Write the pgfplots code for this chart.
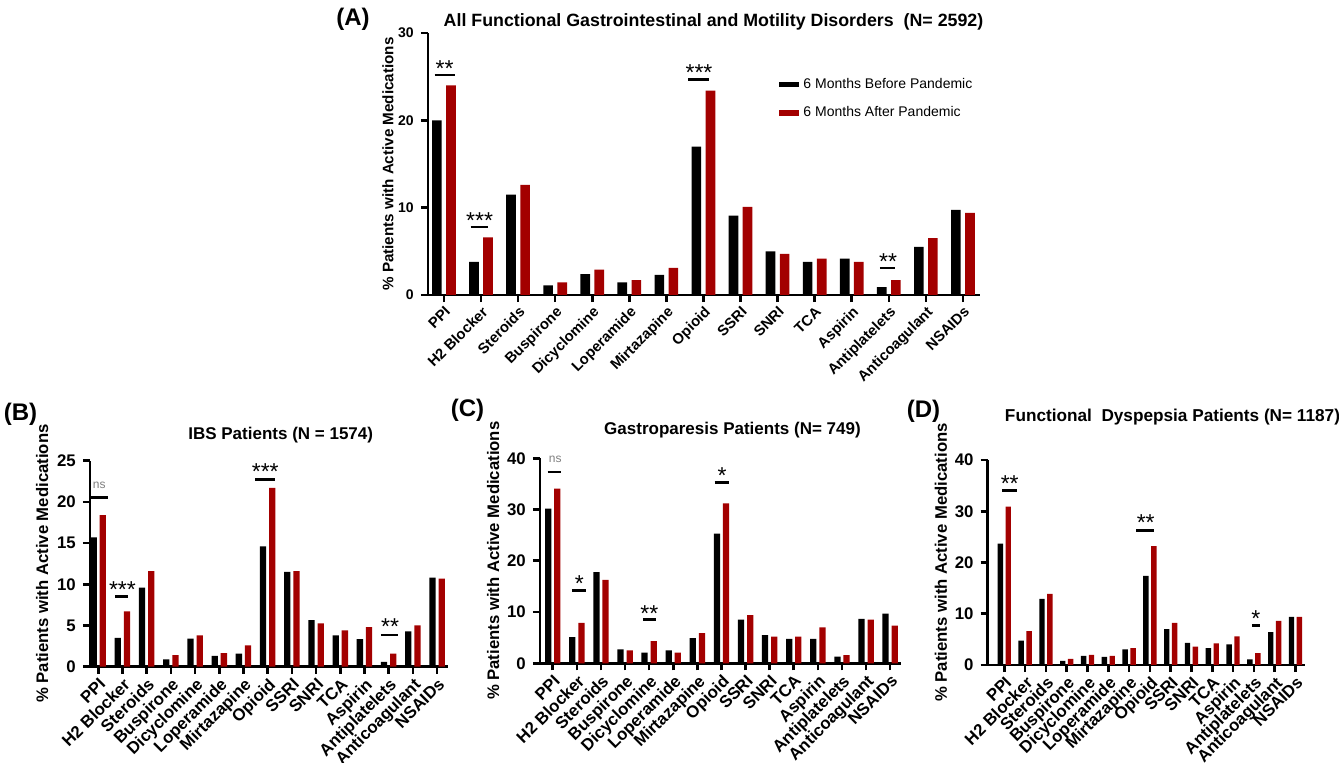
\documentclass[border=0pt]{standalone}
\usepackage{fontspec}
\setmainfont{Liberation Sans}
\usepackage{pgfplots}
\pgfplotsset{compat=1.18}
\usepackage{pgfplotstable}
\definecolor{dred}{RGB}{163,0,0}
\newcommand{\fs}[1]{\fontsize{#1}{#1}\selectfont}

\pgfplotstableread{
i b r
0 20.0 24.0
1 3.8 6.6
2 11.5 12.6
3 1.1 1.45
4 2.4 2.9
5 1.45 1.7
6 2.3 3.1
7 17.0 23.4
8 9.1 10.1
9 5.0 4.7
10 3.8 4.15
11 4.15 3.8
12 0.9 1.7
13 5.5 6.5
14 9.75 9.4
}\dataA
\pgfplotstableread{
i b r
0 15.7 18.4
1 3.5 6.7
2 9.6 11.6
3 0.9 1.4
4 3.4 3.8
5 1.3 1.65
6 1.6 2.6
7 14.6 21.7
8 11.5 11.6
9 5.66 5.26
10 3.8 4.4
11 3.36 4.8
12 0.57 1.6
13 4.3 5.0
14 10.8 10.7
}\dataB
\pgfplotstableread{
i b r
0 30.2 34.1
1 5.1 7.9
2 17.8 16.3
3 2.7 2.5
4 2.1 4.3
5 2.5 2.1
6 4.9 5.9
7 25.3 31.2
8 8.5 9.4
9 5.5 5.2
10 4.75 5.2
11 4.75 7.0
12 1.3 1.6
13 8.65 8.5
14 9.7 7.35
}\dataC
\pgfplotstableread{
i b r
0 23.7 30.9
1 4.75 6.6
2 12.9 13.9
3 0.8 1.2
4 1.8 1.95
5 1.6 1.8
6 3.05 3.3
7 17.4 23.2
8 7.0 8.2
9 4.3 3.6
10 3.3 4.2
11 4.0 5.6
12 1.1 2.3
13 6.4 8.6
14 9.4 9.4
}\dataD

\pgfplotsset{
  gp/.style={
    scale only axis, anchor=south west,
    axis x line=bottom, axis y line=left,
    axis line style={line width=1.3pt,-},
    every outer x axis line/.append style={-},
    every outer y axis line/.append style={-},
    tick style={line width=1.3pt,black},
    tick align=outside, major tick length=3.6pt,
    xtick={0,...,14},
    xticklabels={PPI,H2 Blocker,Steroids,Buspirone,Dicyclomine,Loperamide,Mirtazapine,Opioid,SSRI,SNRI,TCA,Aspirin,Antiplatelets,Anticoagulant,NSAIDs},
    xticklabel style={rotate=45,anchor=north east,inner sep=1pt},
    enlargelimits=false, ymin=0, clip=false,
    /pgf/number format/assume math mode=true,
    ylabel={\% Patients with Active Medications},
  },
  gpb/.style={ybar, fill=black, draw=none, bar width=0.26, bar shift=-0.19},
  gpr/.style={ybar, fill=dred, draw=none, bar width=0.26, bar shift=0.19},
}
\newcommand{\sig}[6]{%
  \draw[line width=1.3pt] (axis cs:#1,#3) -- (axis cs:#2,#3);
  \node[anchor=base, font=\fs{11.5}, inner sep=0pt, yshift=-6.5pt] at (axis cs:#4,#5) {#6};}
\newcommand{\ns}[5]{%
  \draw[line width=1.3pt] (axis cs:#1,#3) -- (axis cs:#2,#3);
  \node[anchor=center, font=\fs{6}, text=gray, inner sep=0pt] at (axis cs:#4,#5) {ns};}

\begin{document}
\begin{tikzpicture}
\useasboundingbox (0pt,0pt) rectangle (669.5pt,381.5pt);

% ---------- (A)
\begin{axis}[gp, at={(214pt,234pt)}, width=276pt, height=131pt,
  xmin=-0.43, xmax=14.46, ymax=30, ytick={0,10,20,30},
  xticklabel style={font=\bfseries\fs{7.4}},
  yticklabel style={font=\bfseries\fs{7}},
  ylabel style={font=\bfseries\fs{7.6}}, ylabel shift=-4.5pt,
  legend style={at={(rel axis cs:0.636,0.845)}, anchor=north west, draw=none, fill=none,
    inner sep=0pt, font=\fs{7.0}, row sep=3.5pt,
    /tikz/every even column/.append style={column sep=7pt}},
  legend cell align=left]
\addplot[gpb, legend image code/.code={\fill[black] (0pt,-1.4pt) rectangle (10pt,1.4pt);}] table[x=i,y=b] {\dataA};
\addplot[gpr, legend image code/.code={\fill[dred] (0pt,-1.4pt) rectangle (10pt,1.4pt);}] table[x=i,y=r] {\dataA};
\legend{6 Months Before Pandemic, 6 Months After Pandemic}
\sig{-0.25}{0.29}{25.2}{0.02}{26.5}{**}
\sig{0.72}{1.18}{7.8}{0.96}{9.1}{***}
\sig{6.59}{7.16}{24.7}{6.88}{26.0}{***}
\sig{11.76}{12.17}{3.1}{11.98}{4.4}{**}
\end{axis}

% ---------- (B)
\begin{axis}[gp, at={(45pt,48.15pt)}, width=179pt, height=103pt,
  xmin=-0.34, xmax=14.45, ymax=25, ytick={0,5,...,25},
  xticklabel style={font=\bfseries\fs{8.4}},
  yticklabel style={font=\bfseries\fs{8.4}},
  ylabel style={font=\bfseries\fs{8.35}}, ylabel shift=-2.5pt]
\addplot[gpb] table[x=i,y=b] {\dataB};
\addplot[gpr] table[x=i,y=r] {\dataB};
\ns{-0.28}{0.41}{20.5}{0.04}{22.0}
\sig{0.70}{1.25}{8.5}{1.0}{10.0}{***}
\sig{6.49}{7.30}{22.7}{6.90}{24.3}{***}
\sig{11.68}{12.40}{3.85}{12.06}{5.5}{**}
\end{axis}

% ---------- (C)
\begin{axis}[gp, at={(270pt,49.85pt)}, width=180.5pt, height=102.5pt,
  xmin=-0.53, xmax=14.45, ymax=40, ytick={0,10,...,40},
  xticklabel style={font=\bfseries\fs{8.4}},
  yticklabel style={font=\bfseries\fs{8.4}},
  ylabel style={font=\bfseries\fs{8.35}}, ylabel shift=-3pt]
\addplot[gpb] table[x=i,y=b] {\dataC};
\addplot[gpr] table[x=i,y=r] {\dataC};
\ns{-0.21}{0.35}{37.3}{0.10}{39.8}
\sig{0.79}{1.39}{14.2}{1.10}{16.6}{*}
\sig{3.74}{4.29}{8.5}{4.01}{10.7}{**}
\sig{6.72}{7.33}{35.3}{7.03}{37.7}{*}
\end{axis}

% ---------- (D)
\begin{axis}[gp, at={(493.85pt,49pt)}, width=158.65pt, height=102.5pt,
  xmin=-0.8, xmax=14.46, ymax=40, ytick={0,10,...,40},
  xticklabel style={font=\bfseries\fs{8.4}},
  yticklabel style={font=\bfseries\fs{8.4}},
  ylabel style={font=\bfseries\fs{8.35}}, ylabel shift=-3pt]
\addplot[gpb] table[x=i,y=b] {\dataD};
\addplot[gpr] table[x=i,y=r] {\dataD};
\sig{-0.09}{0.63}{34.0}{0.26}{36.4}{**}
\sig{6.35}{7.20}{26.3}{6.80}{28.7}{**}
\sig{11.90}{12.28}{7.7}{12.09}{10.1}{*}
\end{axis}

% ---------- titles and panel letters
\node[font=\bfseries\fs{8.9}] at (356.75pt,370.5pt) {All Functional Gastrointestinal and Motility Disorders\ \ (N= 2592)};
\node[font=\bfseries\fs{8.5}] at (140.35pt,164pt) {IBS Patients (N = 1574)};
\node[font=\bfseries\fs{8.5}] at (366.25pt,166.5pt) {Gastroparesis Patients (N= 749)};
\node[font=\bfseries\fs{8.6}] at (586.25pt,173pt) {Functional\ \ Dyspepsia Patients (N= 1187)};
\node[font=\bfseries\fs{12}] at (176.5pt,372pt) {(A)};
\node[font=\bfseries\fs{12}] at (10.25pt,174.5pt) {(B)};
\node[font=\bfseries\fs{12}] at (233.75pt,176.5pt) {(C)};
\node[font=\bfseries\fs{12}] at (461.75pt,176pt) {(D)};
\end{tikzpicture}
\end{document}
